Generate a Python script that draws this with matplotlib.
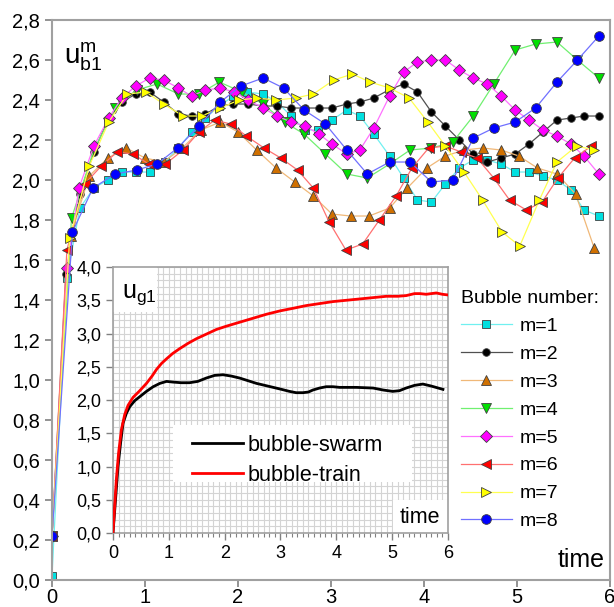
import matplotlib.pyplot as plt
from matplotlib.patches import Rectangle
from matplotlib.ticker import MultipleLocator, FuncFormatter

plt.rcParams['font.family'] = ['Liberation Sans', 'DejaVu Sans']
plt.rcParams['mathtext.fontset'] = 'custom'
plt.rcParams['mathtext.rm'] = 'Liberation Sans'
plt.rcParams['mathtext.it'] = 'Liberation Sans'

# bubble velocity u_b1 for every bubble number m
t1 = [0, 0.16, 0.30, 0.45, 0.60, 0.75, 0.90, 1.05, 1.21, 1.36, 1.50, 1.65, 1.80, 1.95, 2.10, 2.27, 2.42, 2.57,
      2.72, 2.86, 3.01, 3.17, 3.31, 3.46, 3.63, 3.78, 3.93, 4.08, 4.23, 4.38, 4.53, 4.68, 4.83, 4.98, 5.13, 5.28,
      5.43, 5.58, 5.72, 5.88]
u1 = [0.02, 1.51, 1.86, 1.96, 2.00, 2.04, 2.04, 2.04, 2.09, 2.16, 2.24, 2.31, 2.37, 2.42, 2.44, 2.43, 2.39, 2.32,
      2.25, 2.25, 2.30, 2.35, 2.32, 2.23, 2.12, 2.01, 1.90, 1.89, 1.98, 2.06, 2.10, 2.10, 2.08, 2.04, 2.04, 2.02,
      2.00, 1.95, 1.85, 1.82]

t2 = [0, 0.15, 0.30, 0.45, 0.60, 0.75, 0.90, 1.05, 1.20, 1.36, 1.50, 1.65, 1.80, 1.95, 2.11, 2.27, 2.42, 2.57,
      2.72, 2.87, 3.01, 3.17, 3.31, 3.46, 3.62, 3.78, 3.93, 4.08, 4.23, 4.38, 4.53, 4.68, 4.83, 4.98, 5.13, 5.28,
      5.43, 5.58, 5.72, 5.88]
u2 = [0.22, 1.53, 1.93, 2.14, 2.30, 2.39, 2.43, 2.44, 2.39, 2.33, 2.32, 2.33, 2.37, 2.38, 2.38, 2.37, 2.37, 2.36,
      2.36, 2.36, 2.36, 2.38, 2.39, 2.41, 2.45, 2.48, 2.44, 2.34, 2.27, 2.20, 2.13, 2.09, 2.11, 2.13, 2.18, 2.24,
      2.30, 2.31, 2.32, 2.32]

t3 = [0, 0.20, 0.40, 0.60, 0.80, 1.00, 1.20, 1.40, 1.60, 1.81, 2.00, 2.20, 2.41, 2.61, 2.81, 3.01, 3.21, 3.41,
      3.63, 3.82, 4.03, 4.23, 4.43, 4.63, 4.83, 5.02, 5.22, 5.43, 5.63, 5.83]
u3 = [0.22, 1.72, 2.02, 2.11, 2.16, 2.11, 2.09, 2.16, 2.25, 2.29, 2.24, 2.15, 2.06, 1.99, 1.92, 1.83, 1.82, 1.82,
      1.86, 1.96, 2.06, 2.12, 2.15, 2.16, 2.15, 2.12, 2.06, 2.03, 1.93, 1.66]

t4 = [0, 0.21, 0.45, 0.68, 0.91, 1.13, 1.36, 1.58, 1.80, 2.04, 2.27, 2.50, 2.71, 2.94, 3.17, 3.39, 3.63, 3.85,
      4.08, 4.31, 4.53, 4.75, 4.98, 5.20, 5.43, 5.65, 5.88]
u4 = [0.22, 1.81, 2.15, 2.36, 2.45, 2.48, 2.43, 2.43, 2.49, 2.44, 2.38, 2.29, 2.23, 2.13, 2.03, 2.01, 2.08, 2.15,
      2.16, 2.19, 2.32, 2.48, 2.65, 2.68, 2.69, 2.60, 2.51]

t5 = [0, 0.16, 0.29, 0.45, 0.61, 0.75, 0.90, 1.05, 1.20, 1.36, 1.50, 1.65, 1.81, 1.96, 2.11, 2.27, 2.42, 2.57,
      2.72, 2.87, 3.01, 3.17, 3.31, 3.46, 3.63, 3.78, 3.93, 4.08, 4.23, 4.38, 4.53, 4.68, 4.83, 4.98, 5.13, 5.28,
      5.43, 5.58, 5.72, 5.88]
u5 = [0.22, 1.56, 1.96, 2.17, 2.31, 2.41, 2.47, 2.51, 2.50, 2.46, 2.42, 2.45, 2.46, 2.44, 2.40, 2.36, 2.32, 2.29,
      2.27, 2.23, 2.18, 2.13, 2.15, 2.26, 2.42, 2.54, 2.59, 2.60, 2.60, 2.55, 2.51, 2.48, 2.42, 2.35, 2.30, 2.25,
      2.22, 2.18, 2.12, 2.03]

t6 = [0, 0.16, 0.35, 0.53, 0.70, 0.87, 1.04, 1.22, 1.41, 1.58, 1.75, 1.92, 2.09, 2.28, 2.46, 2.64, 2.81, 2.98,
      3.16, 3.34, 3.52, 3.70, 3.87, 4.05, 4.23, 4.40, 4.57, 4.75, 4.92, 5.10, 5.27, 5.44, 5.62, 5.80]
u6 = [0.22, 1.65, 1.98, 2.07, 2.14, 2.13, 2.08, 2.08, 2.15, 2.24, 2.30, 2.28, 2.22, 2.16, 2.11, 2.05, 1.96, 1.79,
      1.65, 1.68, 1.80, 1.92, 2.06, 2.16, 2.17, 2.14, 2.11, 2.01, 1.90, 1.85, 1.89, 2.01, 2.11, 2.17]

t7 = [0, 0.19, 0.40, 0.61, 0.81, 1.01, 1.20, 1.41, 1.61, 1.81, 2.01, 2.20, 2.41, 2.62, 2.81, 3.03, 3.23, 3.42,
      3.63, 3.84, 4.04, 4.23, 4.43, 4.63, 4.84, 5.03, 5.24, 5.43, 5.64, 5.83]
u7 = [0.22, 1.71, 2.07, 2.29, 2.43, 2.44, 2.38, 2.32, 2.32, 2.36, 2.40, 2.41, 2.40, 2.41, 2.43, 2.50, 2.53, 2.49,
      2.46, 2.41, 2.29, 2.17, 2.04, 1.90, 1.74, 1.67, 1.90, 2.09, 2.17, 2.15]

t8 = [0, 0.22, 0.44, 0.68, 0.91, 1.13, 1.35, 1.58, 1.81, 2.03, 2.27, 2.49, 2.71, 2.94, 3.17, 3.39, 3.63, 3.85,
      4.08, 4.31, 4.53, 4.75, 4.98, 5.20, 5.43, 5.65, 5.88]
u8 = [0.22, 1.74, 1.96, 2.03, 2.05, 2.08, 2.16, 2.27, 2.39, 2.47, 2.51, 2.46, 2.35, 2.28, 2.15, 2.03, 2.09, 2.09,
      1.99, 2.00, 2.21, 2.26, 2.29, 2.36, 2.49, 2.60, 2.72]

labels = ["m=1", "m=2", "m=3", "m=4", "m=5", "m=6", "m=7", "m=8"]

# gas velocity u_g1 (inset)
ts = [0, 0.05, 0.09, 0.14, 0.18, 0.24, 0.30, 0.39, 0.48, 0.60, 0.72, 0.84, 0.96, 1.07, 1.22, 1.37, 1.52, 1.67,
      1.82, 1.97, 2.12, 2.27, 2.42, 2.57, 2.72, 2.87, 3.02, 3.16, 3.28, 3.40, 3.50, 3.58, 3.70, 3.82, 3.94, 4.06,
      4.36, 4.66, 4.84, 5.01, 5.13, 5.25, 5.40, 5.55, 5.70, 5.91]
us = [0, 0.55, 1.00, 1.38, 1.65, 1.80, 1.90, 1.99, 2.05, 2.13, 2.20, 2.25, 2.28, 2.27, 2.26, 2.26, 2.28, 2.33,
      2.37, 2.38, 2.36, 2.33, 2.29, 2.25, 2.22, 2.19, 2.16, 2.13, 2.11, 2.11, 2.12, 2.15, 2.18, 2.20, 2.20, 2.19,
      2.19, 2.18, 2.15, 2.13, 2.14, 2.18, 2.22, 2.24, 2.21, 2.16]
tt = [0, 0.03, 0.06, 0.10, 0.15, 0.21, 0.27, 0.36, 0.48, 0.60, 0.70, 0.78, 0.87, 0.96, 1.07, 1.19, 1.34, 1.49,
      1.67, 1.85, 2.03, 2.27, 2.51, 2.75, 2.99, 3.23, 3.46, 3.70, 3.94, 4.18, 4.42, 4.66, 4.90, 5.10, 5.25, 5.40,
      5.50, 5.61, 5.70, 5.79, 5.90, 6.00]
ut = [0, 0.40, 0.80, 1.20, 1.55, 1.78, 1.92, 2.04, 2.14, 2.25, 2.36, 2.46, 2.55, 2.62, 2.70, 2.77, 2.85, 2.92,
      2.99, 3.06, 3.11, 3.17, 3.23, 3.29, 3.34, 3.38, 3.42, 3.45, 3.48, 3.50, 3.52, 3.54, 3.56, 3.56, 3.57, 3.60,
      3.60, 3.59, 3.60, 3.61, 3.59, 3.58]

comma = FuncFormatter(lambda v, p: f"{v:.1f}".replace(".", ","))

fig = plt.figure(figsize=(6.14, 6.07), dpi=100)

# main axes
ax = fig.add_axes([0.0847, 0.0445, 0.9088, 0.9225])

styles = [
    ("s", "#00e0e0", "#70f0f0", 6),
    ("o", "#000000", "#505050", 5.5),
    ("^", "#d07000", "#f0b878", 7.5),
    ("v", "#00e000", "#70f070", 7.5),
    ("D", "#ff00ff", "#ff70ff", 6),
    ("<", "#ff0000", "#ff7070", 7.5),
    (">", "#ffff00", "#ffff50", 7.5),
    ("o", "#0000ff", "#7070ff", 7),
]
series = [(t1, u1), (t2, u2), (t3, u3), (t4, u4), (t5, u5), (t6, u6), (t7, u7), (t8, u8)]

for (t, u), (mk, mc, lc, ms), lab in zip(series, styles, labels):
    ax.plot(t, u, color=lc, lw=0.9, marker=mk, markersize=ms,
            markerfacecolor=mc, markeredgecolor="#404040", markeredgewidth=0.6, label=lab)

ax.set_xlim(0, 6)
ax.set_ylim(0, 2.8)
ax.xaxis.set_major_locator(MultipleLocator(1))
ax.yaxis.set_major_locator(MultipleLocator(0.2))
ax.yaxis.set_major_formatter(comma)
ax.tick_params(direction="out", length=5, width=1.2, color="#808080", labelsize=14.5)
ax.tick_params(axis="x", pad=1)
for s in ax.spines.values():
    s.set_color("#a0a0a0")
    s.set_linewidth(1.5)

ax.text(0.022, 0.923, r"$\mathregular{u_{b1}^{m}}$", transform=ax.transAxes,
        fontsize=20, va="baseline", ha="left")
ax.text(0.991, 0.036, "time", transform=ax.transAxes, fontsize=18, ha="right", va="center")

ax.legend(loc="upper left", bbox_to_anchor=(0.733, 0.518), frameon=False,
          title="Bubble number:", alignment="left", fontsize=14, title_fontsize=14,
          handlelength=2.6, handletextpad=0.4, labelspacing=0.53, borderpad=0, borderaxespad=0)

# inset
axi = fig.add_axes([0.184, 0.1219, 0.5456, 0.4382])
axi.set_zorder(5)
axi.plot(ts, us, color="black", lw=2, label="bubble-swarm", zorder=3)
axi.plot(tt, ut, color="red", lw=2, label="bubble-train", zorder=3)
axi.set_xlim(0, 6)
axi.set_ylim(0, 4)
axi.xaxis.set_major_locator(MultipleLocator(1))
axi.xaxis.set_minor_locator(MultipleLocator(0.1))
axi.yaxis.set_major_locator(MultipleLocator(0.5))
axi.yaxis.set_minor_locator(MultipleLocator(0.1))
axi.yaxis.set_major_formatter(comma)
axi.grid(which="both", color="#d4d4d4", lw=0.8)
axi.set_axisbelow(True)
axi.tick_params(which="major", direction="out", length=5, width=1, color="#808080", labelsize=13)
axi.tick_params(axis="x", which="minor", direction="out", length=3, width=0.8, color="#808080")
axi.tick_params(axis="y", which="minor", length=0)
for s in axi.spines.values():
    s.set_color("#a0a0a0")
    s.set_linewidth(1.2)

# white label boxes inside the inset
for x0, y0, w, h in [(0, 0.831, 0.131, 0.169), (0.836, 0, 0.164, 0.124), (0.179, 0.192, 0.714, 0.214)]:
    axi.add_patch(Rectangle((x0, y0), w, h, transform=axi.transAxes, facecolor="white",
                            edgecolor="none", zorder=1.5))

axi.text(0.027, 0.885, r"$\mathregular{u_{g1}}$", transform=axi.transAxes, fontsize=18,
         va="baseline", ha="left", zorder=4)
axi.text(0.916, 0.06, "time", transform=axi.transAxes, fontsize=15.5, ha="center", va="center", zorder=4)
axi.legend(loc="upper left", bbox_to_anchor=(0.236, 0.37), fontsize=15.5, handlelength=2.35,
           handletextpad=0.25, labelspacing=0.42, borderpad=0, borderaxespad=0, frameon=False)

fig.savefig("out.png", dpi=100)
